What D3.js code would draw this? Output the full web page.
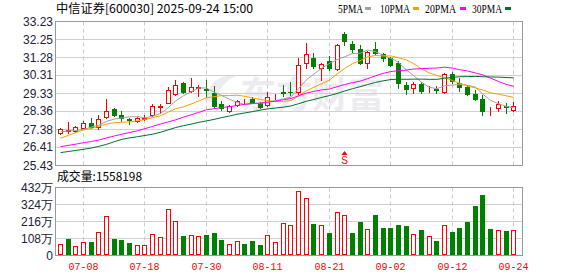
<!DOCTYPE html>
<html><head><meta charset="utf-8">
<script src="https://cdn.jsdelivr.net/npm/d3@7"></script>
<style>body{margin:0;background:#fff;}svg{display:block;}</style>
</head><body><svg id="c" width="578" height="276"></svg>
<script>
const title = "中信证券[600030] 2025-09-24 15:00";
const dates = ["07-03","07-04","07-07","07-08","07-09","07-10","07-11","07-14","07-15","07-16","07-17","07-18","07-21","07-22","07-23","07-24","07-25","07-28","07-29","07-30","07-31","08-01","08-04","08-05","08-06","08-07","08-08","08-11","08-12","08-13","08-14","08-15","08-18","08-19","08-20","08-21","08-22","08-25","08-26","08-27","08-28","08-29","09-01","09-02","09-03","09-04","09-05","09-08","09-09","09-10","09-11","09-12","09-15","09-16","09-17","09-18","09-19","09-22","09-23","09-24"];
const open  = [27.15,27.27,27.27,27.45,27.69,27.47,28.05,28.45,28.14,27.94,27.81,27.93,28.16,28.58,28.79,29.30,29.86,29.46,29.62,29.55,29.35,28.72,28.37,28.68,28.84,28.99,28.77,28.68,29.15,29.38,29.40,29.36,30.94,31.24,30.66,31.08,30.61,32.55,31.98,31.71,30.94,31.71,31.45,31.21,30.94,29.76,29.59,29.80,29.49,29.56,29.40,30.36,29.86,29.64,29.28,29.01,28.33,28.50,28.60,28.41];
const high  = [27.43,27.74,27.56,27.81,27.99,28.12,29.02,28.50,28.37,27.99,28.05,28.14,28.72,28.73,29.66,30.03,29.95,30.15,29.76,30.03,29.71,28.87,28.70,28.97,28.99,29.14,28.86,29.40,29.28,29.76,29.93,31.25,32.05,31.52,30.94,31.33,32.01,32.63,32.15,31.93,31.60,32.11,31.52,31.30,31.06,29.93,29.90,29.90,29.71,29.73,30.40,30.45,30.16,29.76,29.49,29.22,28.56,28.90,28.77,28.83];
const low   = [27.09,27.16,27.23,27.42,27.45,27.38,27.96,28.10,27.83,27.63,27.74,27.87,28.10,28.23,28.77,29.22,29.35,29.40,29.17,29.11,28.52,28.41,28.30,28.63,28.80,28.80,28.53,28.61,29.01,29.17,29.22,29.30,30.68,30.66,30.06,30.58,30.60,31.93,31.57,30.88,30.70,31.44,31.06,30.79,29.58,29.25,29.35,29.33,29.40,29.35,29.31,29.86,29.45,29.22,28.95,28.14,28.14,28.37,28.26,28.37];
const close = [27.38,27.35,27.49,27.69,27.51,27.91,28.36,28.14,27.96,27.85,27.96,27.98,28.61,28.63,29.48,29.79,29.41,29.63,29.68,29.50,28.63,28.53,28.61,28.88,28.86,28.85,28.59,29.09,29.17,29.35,29.37,30.85,31.44,30.78,30.90,30.67,31.93,32.16,31.71,30.94,31.55,31.50,31.21,30.83,29.86,29.57,29.81,29.46,29.51,29.50,30.34,29.98,29.64,29.28,29.01,28.37,28.35,28.73,28.58,28.64];
// volume in 万 shares
const volume = [70,102,57,81,83,146,248,102,95,76,62,64,131,114,292,216,121,127,121,129,140,95,70,89,70,89,64,127,83,203,191,406,362,197,191,140,273,254,140,210,165,254,172,172,191,184,133,159,121,89,191,146,172,210,311,381,165,159,152,155.8];
const ma5  = [27.23,27.27,27.30,27.36,27.48,27.59,27.79,27.92,27.98,28.04,28.05,27.98,28.07,28.21,28.53,28.90,29.18,29.39,29.60,29.60,29.37,29.19,28.99,28.83,28.70,28.75,28.76,28.85,28.91,29.01,29.11,29.57,30.04,30.36,30.67,30.93,31.14,31.29,31.47,31.48,31.66,31.57,31.38,31.21,30.99,30.59,30.26,29.91,29.64,29.57,29.72,29.76,29.79,29.75,29.65,29.26,28.93,28.75,28.61,28.53];
const ma10 = [26.88,27.03,27.19,27.33,27.41,27.52,27.65,27.72,27.75,27.76,27.82,27.89,28.00,28.09,28.29,28.48,28.58,28.73,28.90,29.07,29.13,29.19,29.19,29.21,29.15,29.06,28.98,28.92,28.87,28.86,28.93,29.16,29.45,29.64,29.84,30.02,30.36,30.66,30.92,31.08,31.29,31.36,31.34,31.34,31.24,31.13,30.91,30.64,30.42,30.28,30.16,30.01,29.85,29.70,29.61,29.49,29.34,29.27,29.18,29.09];
const ma20 = [26.42,26.49,26.56,26.64,26.70,26.78,26.90,27.00,27.10,27.19,27.28,27.40,27.52,27.65,27.76,27.88,28.02,28.15,28.28,28.42,28.48,28.54,28.59,28.65,28.72,28.77,28.78,28.83,28.89,28.96,29.03,29.18,29.32,29.42,29.50,29.54,29.67,29.79,29.89,29.97,30.11,30.26,30.39,30.49,30.54,30.57,30.63,30.65,30.67,30.68,30.73,30.68,30.59,30.52,30.42,30.31,30.13,29.96,29.80,29.69];
const ma30 = [26.10,26.16,26.22,26.28,26.35,26.44,26.55,26.69,26.82,26.90,26.96,27.03,27.10,27.20,27.33,27.46,27.56,27.64,27.74,27.82,27.90,28.00,28.08,28.18,28.25,28.32,28.40,28.47,28.52,28.56,28.63,28.75,28.88,28.98,29.09,29.19,29.30,29.44,29.56,29.67,29.79,29.90,29.99,30.06,30.08,30.07,30.08,30.08,30.07,30.07,30.13,30.18,30.21,30.22,30.23,30.21,30.20,30.19,30.17,30.15];
const priceTicks = ["25.43","26.41","27.38","28.36","29.33","30.31","31.28","32.25","33.23"];
const volTicks = [0,108,216,324,432];
const volTickLabels = ["0","108万","216万","324万","432万"];
const xTickDates = ["07-08","07-18","07-30","08-11","08-21","09-02","09-12","09-24"];
const maNames = ["5PMA","10PMA","20PMA","30PMA"];
const maColors = ["#a0a0a0","#f5a200","#ff00ff","#00702e"];
const volLabel = "成交量:";
const lastVolume = "1558198";
const signalDate = "08-25";
const watermark = "东方财富";

const RED = "#ff0000", GREEN = "#008000";
const svg = d3.select("#c");
const L = 55.5, R = 522.5, PT = 21.5, PB = 165.5, VT = 187.5, VB = 255.5;

const x = d3.scaleLinear().domain([0, dates.length - 1]).range([60, 513.2]);
const y = d3.scaleLinear().domain([25.43, 33.23]).range([165, 21]);
const yv = d3.scaleLinear().domain([0, 432]).range([255, 187]);
const px = i => Math.round(x(i));

// watermark
svg.append("text").attr("x", 240).attr("y", 108).text(watermark)
  .attr("font-family", "'Noto Sans CJK SC'").attr("font-weight", "bold")
  .attr("font-size", 36).attr("fill", "#ececf0");
svg.append("path").attr("d", "M205,100 C210,80 222,74 236,76 C226,80 218,88 216,104 Z")
  .attr("fill", "#ececf0");

// grid price
const gP = svg.append("g");
priceTicks.slice(1, -1).forEach(t => {
  const yy = Math.round(y(+t)) + 0.5;
  gP.append("line").attr("x1", L).attr("x2", R).attr("y1", yy).attr("y2", yy)
    .attr("stroke", "#d0d0d0");
});
volTicks.slice(1, -1).forEach(t => {
  const yy = Math.round(yv(t)) + 0.5;
  gP.append("line").attr("x1", L).attr("x2", R).attr("y1", yy).attr("y2", yy)
    .attr("stroke", "#d0d0d0");
});
xTickDates.forEach(d => {
  const xx = px(dates.indexOf(d)) + 0.5;
  [[PT, PB], [VT, VB]].forEach(([a, b]) => {
    gP.append("line").attr("x1", xx).attr("x2", xx).attr("y1", a).attr("y2", b)
      .attr("stroke", "#cccccc").attr("stroke-dasharray", "4,3");
  });
});

// frames
svg.append("rect").attr("x", L).attr("y", PT).attr("width", R - L).attr("height", PB - PT)
  .attr("fill", "none").attr("stroke", "#999");
svg.append("rect").attr("x", L).attr("y", VT).attr("width", R - L).attr("height", VB - VT)
  .attr("fill", "none").attr("stroke", "#999");

// y labels
const ySty = s => s.attr("font-family", "'Liberation Sans', Arial").attr("font-size", 12)
  .attr("fill", "#222236").attr("text-anchor", "end").attr("dominant-baseline", "central");
priceTicks.forEach(t => {
  svg.append("text").attr("x", 53).attr("y", y(+t) + 0.5).text(t).call(ySty);
});
volTicks.forEach((t, k) => {
  svg.append("text").attr("x", 53).attr("y", yv(t) + 0.5).text(volTickLabels[k]).call(ySty);
});

// x labels
xTickDates.forEach(d => {
  svg.append("text").attr("x", px(dates.indexOf(d)) + 0.5).attr("y", 270).text(d)
    .attr("font-family", "'Liberation Mono', monospace").attr("font-size", 10)
    .attr("fill", RED).attr("text-anchor", "middle");
});

// candles
const gC = svg.append("g");
dates.forEach((d, i) => {
  const cx = px(i);
  const up = close[i] >= open[i];
  const col = up ? RED : GREEN;
  const yT = Math.round(y(Math.max(open[i], close[i])));
  const yB = Math.round(y(Math.min(open[i], close[i])));
  gC.append("line").attr("x1", cx + 0.5).attr("x2", cx + 0.5)
    .attr("y1", Math.round(y(high[i]))).attr("y2", Math.round(y(low[i])) + 1)
    .attr("stroke", col);
  if (up) {
    gC.append("rect").attr("x", cx - 1.5).attr("y", yT + 0.5)
      .attr("width", 4).attr("height", Math.max(0, yB - yT))
      .attr("fill", "#fff").attr("stroke", RED);
  } else {
    gC.append("rect").attr("x", cx - 2).attr("y", yT)
      .attr("width", 5).attr("height", Math.max(1, yB - yT + 1)).attr("fill", GREEN);
  }
});

// MA lines
[ma5, ma10, ma20, ma30].forEach((arr, k) => {
  svg.append("path").datum(arr)
    .attr("d", d3.line().x((v, i) => x(i) + 0.5).y(v => y(v)))
    .attr("fill", "none").attr("stroke", maColors[k]).attr("stroke-width", 1);
});

// volume bars
dates.forEach((d, i) => {
  const cx = px(i);
  const up = i === 0 ? true : close[i] >= close[i - 1];
  const yT = Math.round(yv(volume[i]));
  if (up) {
    svg.append("rect").attr("x", cx - 1.5).attr("y", yT + 0.5)
      .attr("width", 4).attr("height", 255 - yT - 1)
      .attr("fill", "#fff").attr("stroke", RED);
  } else {
    svg.append("rect").attr("x", cx - 2).attr("y", yT)
      .attr("width", 5).attr("height", 255 - yT).attr("fill", GREEN);
  }
});

// signal marker
const sx = px(dates.indexOf(signalDate)) + 0.5;
svg.append("path").attr("d", `M${sx},151 L${sx - 3},155 L${sx + 3},155 Z`).attr("fill", RED);
svg.append("text").attr("x", sx).attr("y", 164).text("S")
  .attr("font-family", "'Liberation Sans'").attr("font-size", 10)
  .attr("fill", RED).attr("text-anchor", "middle");

// title
svg.append("text").attr("x", 56).attr("y", 13).text(title)
  .attr("font-family", "'Noto Sans CJK SC'").attr("font-size", 12).attr("fill", "#000")
  .attr("textLength", 197).attr("lengthAdjust", "spacingAndGlyphs");

// legend
const legX = [338, 380, 425, 472], legW = [25, 30, 31, 30], legR = [365, 413, 460, 505];
maNames.forEach((n, k) => {
  svg.append("text").attr("x", legX[k]).attr("y", 13).text(n)
    .attr("font-family", "'Liberation Serif', serif").attr("font-size", 12).attr("fill", "#000")
    .attr("textLength", legW[k]).attr("lengthAdjust", "spacingAndGlyphs");
  svg.append("rect").attr("x", legR[k]).attr("y", 7).attr("width", 6).attr("height", 3)
    .attr("fill", maColors[k]);
});

// volume label
svg.append("text").attr("x", 57).attr("y", 181).text(volLabel + lastVolume)
  .attr("font-family", "'Noto Sans CJK SC'").attr("font-size", 12).attr("fill", "#000")
  .attr("textLength", 85).attr("lengthAdjust", "spacingAndGlyphs");
</script></body></html>
